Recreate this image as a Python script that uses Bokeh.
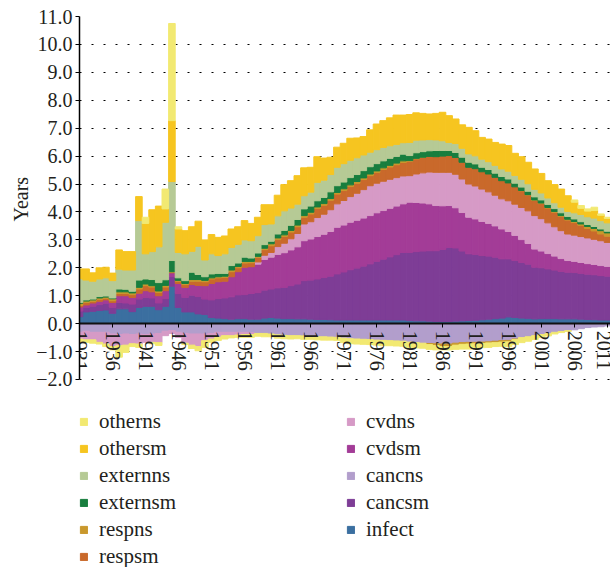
from bokeh.plotting import figure
from bokeh.models import (Range1d, FixedTicker, CustomJSTickFormatter, Legend,
                          LegendItem, ColumnDataSource, Title)
from bokeh.embed import file_html
from bokeh.resources import INLINE

years = list(range(1931, 2013))

infect = [.25, .42, .44, .47, .49, .37, .53, .53, .43, .58,
          .62, .62, .50, .62, 1.34, .58, .42, .42, .35, .33,
          .22, .20, .18, .16, .18, .18, .16, .16, .20, .22,
          .20, .18, .18, .17, .17, .16, .15, .15, .14, .13,
          .13, .13, .13, .13, .13, .13, .13, .13, .13, .13,
          .11, .10, .10, .09, .08, .08, .08, .09, .10, .11,
          .12, .14, .16, .18, .20, .24, .22, .20, .19, .17,
          .18, .18, .18, .17, .17, .17, .16, .15, .14, .13,
          .13, .12]
cancsm = [.20, .16, .18, .21, .24, .21, .23, .21, .27, .30,
          .32, .30, .24, .28, .34, .50, .52, .60, .62, .55,
          .63, .70, .74, .80, .85, .86, .92, .95, 1.00, 1.02,
          1.08, 1.12, 1.18, 1.25, 1.37, 1.40, 1.45, 1.50, 1.56, 1.65,
          1.72, 1.80, 1.86, 1.93, 2.01, 2.10, 2.18, 2.26, 2.34, 2.42,
          2.44, 2.48, 2.50, 2.52, 2.53, 2.58, 2.65, 2.62, 2.50, 2.39,
          2.36, 2.30, 2.26, 2.20, 2.12, 2.08, 2.04, 1.99, 1.94, 1.85,
          1.82, 1.78, 1.74, 1.70, 1.67, 1.66, 1.64, 1.62, 1.61, 1.59,
          1.57, 1.55]
cancns = [-.31, -.27, -.31, -.31, -.31, -.37, -.39, -.37, -.39, -.37,
          -.39, -.37, -.35, -.27, -.25, -.31, -.35, -.37, -.37, -.37,
          -.35, -.31, -.31, -.31, -.31, -.31, -.33, -.35, -.35, -.37,
          -.40, -.42, -.43, -.43, -.44, -.45, -.47, -.47, -.48, -.49,
          -.52, -.54, -.55, -.56, -.57, -.59, -.60, -.61, -.62, -.63,
          -.66, -.68, -.70, -.71, -.72, -.73, -.73, -.70, -.68, -.67,
          -.67, -.66, -.65, -.63, -.61, -.60, -.55, -.50, -.47, -.43,
          -.39, -.36, -.31, -.28, -.25, -.22, -.18, -.14, -.12, -.11,
          -.08, -.07]
cvdsm = [.15, .09, .12, .12, .12, .18, .24, .26, .24, .21,
         .24, .22, .26, .28, .14, .36, .36, .38, .40, .48,
         .59, .60, .60, .72, .83, .98, .96, 1.02, 1.10, 1.14,
         1.20, 1.24, 1.28, 1.33, 1.43, 1.47, 1.52, 1.55, 1.60, 1.67,
         1.68, 1.70, 1.71, 1.72, 1.73, 1.74, 1.74, 1.74, 1.74, 1.74,
         1.80, 1.76, 1.72, 1.68, 1.62, 1.56, 1.50, 1.44, 1.38, 1.31,
         1.27, 1.22, 1.17, 1.12, 1.07, .98, .90, .82, .74, .65,
         .60, .55, .50, .46, .42, .40, .39, .38, .37, .36,
         .35, .34]
cvdns = [-.24, -.31, -.27, -.36, -.42, -.45, -.40, -.40, -.33, -.36,
         -.28, -.30, -.33, -.16, -.10, -.18, -.35, -.40, -.45, -.24,
         -.20, -.17, -.12, -.12, -.10, -.08, -.06, .08, .15, .17,
         .28, .34, .40, .48, .60, .62, .68, .72, .78, .84,
         .88, .92, .97, 1.02, 1.07, 1.06, 1.05, 1.04, 1.02, 1.00,
         .95, 1.02, 1.08, 1.14, 1.19, 1.20, 1.19, 1.20, 1.20, 1.19,
         1.18, 1.16, 1.13, 1.10, 1.08, 1.10, 1.12, 1.15, 1.17, 1.20,
         1.16, 1.10, 1.05, 1.00, .95, .94, .93, .92, .90, .89,
         .86, .84]
respsm = [.05, .09, .06, .07, .06, .06, .08, .08, .10, .15,
          .18, .17, .12, .13, .02, .08, .10, .12, .15, .14,
          .16, .14, .14, .18, .14, .15, .14, .16, .20, .24,
          .25, .24, .24, .24, .24, .28, .32, .32, .34, .35,
          .36, .36, .36, .36, .36, .38, .42, .44, .46, .48,
          .52, .54, .55, .56, .56, .58, .60, .60, .60, .60,
          .62, .62, .64, .64, .65, .64, .62, .60, .57, .54,
          .54, .53, .52, .51, .50, .45, .40, .34, .30, .24,
          .22, .22]
respns = [.08, .05, .05, .05, .04, .07, .06, .06, .06, .06,
          .06, .05, .05, .06, .02, .03, .04, .06, .06, .05,
          .04, .04, .04, .06, .05, .06, .05, .04, .05, .07,
          .06, .06, .06, .06, .06, .06, .06, .06, .06, .06,
          .06, .06, .06, .06, .06, .06, .06, .06, .06, .06,
          .02, .02, .01, -.04, -.06, -.09, -.09, -.07, -.06, -.06,
          -.05, -.05, -.04, -.05, -.05, -.05, -.02, .01, .01, .02,
          .02, .02, .03, .03, .03, .04, .05, .07, .09, .12,
          .12, .12]
externsm = [.03, .04, .03, .05, .04, .03, .10, .09, .06, .26,
            .18, .22, .30, .20, .40, .09, .10, .26, .18, .13,
            .14, .12, .10, .16, .12, .15, .12, .12, .13, .09,
            .14, .16, .18, .20, .24, .22, .22, .22, .24, .24,
            .24, .26, .25, .26, .26, .26, .25, .25, .24, .24,
            .18, .20, .20, .20, .22, .20, .18, .18, .18, .18,
            .17, .16, .16, .15, .15, .14, .13, .12, .12, .11,
            .11, .11, .10, .10, .10, .09, .08, .07, .07, .06,
            .06, .05]
externns = [.85, .71, .64, .63, .65, .62, .71, .69, .76, 2.13,
            .90, 1.00, 1.28, 2.06, 2.83, .91, .96, .75, 1.01, .60,
            .72, .64, .70, .65, .67, .62, .62, .62, .72, .62,
            .65, .70, .62, .55, .47, .50, .66, .62, .62, .66,
            .66, .62, .60, .56, .52, .50, .48, .45, .43, .41,
            .47, .45, .42, .40, .38, .35, .29, .32, .32, .30,
            .29, .29, .28, .28, .27, .28, .28, .28, .27, .27,
            .25, .23, .21, .20, .18, .22, .26, .28, .30, .30,
            .30, .30]
othersm = [.35, .40, .30, .40, .38, .27, .69, .66, .66, .86,
           1.09, 1.50, 1.46, .48, 2.18, .84, .83, .88, .90, .72,
           .69, .65, .64, .66, .63, .69, .62, .66, .71, .69,
           .74, .94, .98, 1.02, 1.00, .89, .92, .79, .62, .72,
           .73, .79, .71, .66, .80, .92, .96, 1.00, 1.05, .99,
           1.00, .98, .95, .92, .95, 1.02, .96, .88, .84, .95,
           .90, .78, .81, .82, .89, .92, .79, .81, .77, .73,
           .70, .62, .65, .65, .56, .38, .22, .20, .27, .19,
           .16, .17]
otherns = [-.12, -.09, -.12, -.06, -.09, -.12, -.41, -.26, -.10, -.12,
           .22, -.05, -.10, .71, 3.48, .08, -.05, -.12, -.15, -.24,
           -.12, -.12, -.12, -.08, -.08, -.10, -.10, -.10, -.12, -.10,
           -.12, -.12, -.12, -.11, -.12, -.11, -.11, -.12, -.11, -.11,
           -.16, -.18, -.18, -.18, -.18, -.18, -.19, -.18, -.18, -.18,
           -.20, -.19, -.18, -.17, -.16, -.12, -.12, -.15, -.17, -.18,
           -.16, -.15, -.16, -.14, -.15, -.18, -.18, -.18, -.16, -.14,
           -.11, -.08, -.06, -.04, -.03, .08, .10, .08, .12, .05,
           .04, .04]

stack_names = ["infect", "cancsm", "cancns", "cvdsm", "cvdns", "respsm",
               "respns", "externsm", "externns", "othersm", "otherns"]
stack_values = [infect, cancsm, cancns, cvdsm, cvdns, respsm, respns,
                externsm, externns, othersm, otherns]
colors = {
    "infect": "#3B6FA0", "cancsm": "#7E3D96", "cancns": "#B29ECC",
    "cvdsm": "#A33C97", "cvdns": "#D69AC6", "respsm": "#C9692B",
    "respns": "#C9982C", "externsm": "#187E3E", "externns": "#B6CA95",
    "othersm": "#F6C520", "otherns": "#F2E972",
}
legend_order = ["otherns", "othersm", "externns", "externsm", "respns",
                "respsm", "cvdns", "cvdsm", "cancns", "cancsm", "infect"]
x_ticks = list(range(1931, 2012, 5))
y_ticks = list(range(-2, 12))

FONT = "Liberation Serif"
TXT = "#231F20"
FS = "20px"

# frame: 11 at y=16 px, -2 at y=379 px; extended down to hold the legend
p = figure(width=610, height=567, x_range=Range1d(1931, 2011.45),
           y_range=Range1d(-8.733, 11), output_backend="svg",
           toolbar_location=None, min_border_left=79, min_border_right=0,
           min_border_top=16, min_border_bottom=0)

n = len(years)
pos = [0.0] * n
neg = [0.0] * n
renderers = {}
for name, vals in zip(stack_names, stack_values):
    bottoms, tops = [], []
    for i, v in enumerate(vals):
        if v >= 0:
            b = pos[i]
            t = b + v
            pos[i] = t
        else:
            t = neg[i]
            b = t + v
            neg[i] = b
        bottoms.append(b)
        tops.append(t)
    src = ColumnDataSource(dict(x=years, bottom=bottoms, top=tops))
    c = colors[name]
    renderers[name] = p.vbar(x="x", width=1.0, bottom="bottom", top="top",
                             source=src, fill_color=c, line_color=c,
                             line_width=1)

# axes
p.yaxis.bounds = (-2, 11)
p.yaxis.ticker = FixedTicker(ticks=y_ticks)
p.yaxis.formatter = CustomJSTickFormatter(
    code="return tick.toFixed(1).replace('-', '\u2212');")
p.yaxis.major_label_text_font = FONT
p.yaxis.major_label_text_font_size = FS
p.yaxis.major_label_text_color = TXT
p.yaxis.major_label_standoff = 3
p.yaxis.minor_tick_line_color = None
p.yaxis.major_tick_in = 0
p.yaxis.major_tick_out = 4
p.yaxis.axis_line_width = 1.5
p.yaxis.axis_line_color = "black"
p.yaxis.major_tick_line_color = "black"

ytitle = Title(text="Years", align="left", offset=346, standoff=4,
               text_font=FONT, text_font_size=FS, text_font_style="normal",
               text_color=TXT)
p.add_layout(ytitle, "left")

p.xaxis.ticker = FixedTicker(ticks=x_ticks)
p.xaxis.fixed_location = 0
p.xaxis.major_label_orientation = "vertical"
p.xaxis.major_label_text_font = FONT
p.xaxis.major_label_text_font_size = FS
p.xaxis.major_label_text_color = TXT
p.xaxis.major_label_standoff = 3
p.xaxis.minor_tick_line_color = None
p.xaxis.major_tick_in = 0
p.xaxis.major_tick_out = 4
p.xaxis.axis_line_width = 2
p.xaxis.axis_line_color = "#111111"

p.xgrid.visible = False
p.ygrid.grid_line_color = "black"
p.ygrid.grid_line_dash = "2 10"
p.ygrid.grid_line_width = 1
p.outline_line_color = None

legend = Legend(
    items=[LegendItem(label=nm, renderers=[renderers[nm]]) for nm in legend_order],
    nrows=6, orientation="vertical", location=(0, -3),
    border_line_color=None, background_fill_alpha=0,
    padding=1, margin=0, spacing=0,
    glyph_width=9, glyph_height=9, label_standoff=11,
    label_height=27, label_width=247,
    label_text_font=FONT, label_text_font_size="21px",
    label_text_color=TXT,
)
p.add_layout(legend, "center")

open("out.html", "w").write(file_html(p, INLINE))
